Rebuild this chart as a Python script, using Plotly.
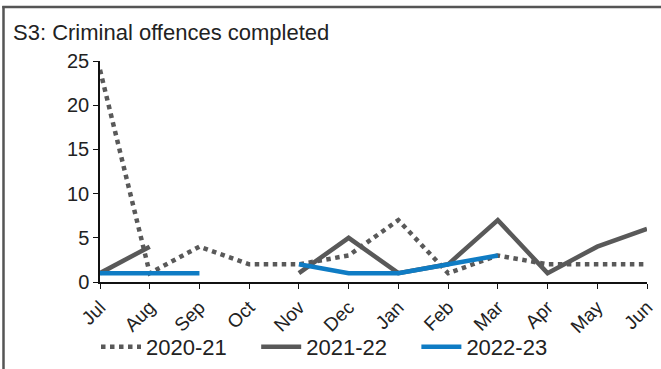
import plotly.graph_objects as go

months = ["Jul", "Aug", "Sep", "Oct", "Nov", "Dec", "Jan", "Feb", "Mar", "Apr", "May", "Jun"]
y2020_21 = [24, 1, 4, 2, 2, 3, 7, 1, 3, 2, 2, 2]
y2021_22 = [1, 4, None, None, 1, 5, 1, 2, 7, 1, 4, 6]
y2022_23 = [1, 1, 1, None, 2, 1, 1, 2, 3, None, None, None]
yticks = [0, 5, 10, 15, 20, 25]
series_names = ["2020-21", "2021-22", "2022-23"]

GREY = "#595959"
BLUE = "#0f7cc4"
FONT = "Liberation Sans, Arial, sans-serif"
PAD = "\u00a0" * 4

fig = go.Figure()
fig.add_trace(go.Scatter(x=months, y=y2020_21, name=series_names[0] + PAD, mode="lines",
                         line=dict(color=GREY, width=4.5, dash="dot")))
fig.add_trace(go.Scatter(x=months, y=y2021_22, name=series_names[1] + PAD, mode="lines",
                         line=dict(color=GREY, width=4.5), connectgaps=False))
fig.add_trace(go.Scatter(x=months, y=y2022_23, name=series_names[2], mode="lines",
                         line=dict(color=BLUE, width=4.5), connectgaps=False))

L, R, T, B = 100, 14, 61, 87
W, H = 661, 369
pw, ph = W - L - R, H - T - B

def px_x(p):
    return (p - L) / pw

def px_y(p):
    return (H - B - p) / ph

fig.update_layout(
    width=W, height=H,
    margin=dict(l=L, r=R, t=T, b=B, pad=0, autoexpand=False),
    paper_bgcolor="white", plot_bgcolor="white",
    font=dict(family=FONT, size=20, color="#222222"),
    showlegend=True,
    legend=dict(orientation="h", x=px_x(96), xanchor="left", y=px_y(347), yanchor="middle",
                font=dict(size=22, color="#222222"), itemwidth=40, tracegroupgap=0,
                bgcolor="rgba(0,0,0,0)"),
    annotations=[dict(text="S3: Criminal offences completed", xref="paper", yref="paper",
                      x=px_x(11), y=px_y(32), xanchor="left", yanchor="middle",
                      showarrow=False, font=dict(size=22, color="#222222"))],
    shapes=[
        dict(type="line", xref="paper", yref="paper", x0=px_x(3.5), x1=px_x(3.5),
             y0=px_y(6), y1=px_y(380), line=dict(color="#555555", width=2.5)),
        dict(type="line", xref="paper", yref="paper", x0=px_x(2.3), x1=px_x(670),
             y0=px_y(7), y1=px_y(7), line=dict(color="#555555", width=2.5)),
    ],
)
fig.update_xaxes(type="category", range=[0, 11], showgrid=False, showline=True,
                 linecolor="#111111", linewidth=1.5, ticks="outside", ticklen=5,
                 tickcolor="#111111", tickangle=-45, tickfont=dict(size=19),
                 zeroline=False)
fig.update_yaxes(range=[0, 25], tickvals=yticks, showgrid=False, showline=True,
                 linecolor="#111111", linewidth=1.5, ticks="outside", ticklen=5,
                 tickcolor="#111111", tickfont=dict(size=20), zeroline=False)

fig.write_html("out.html", config={"displayModeBar": False},
               post_script="document.body.style.margin='0';document.body.style.overflow='hidden';")
